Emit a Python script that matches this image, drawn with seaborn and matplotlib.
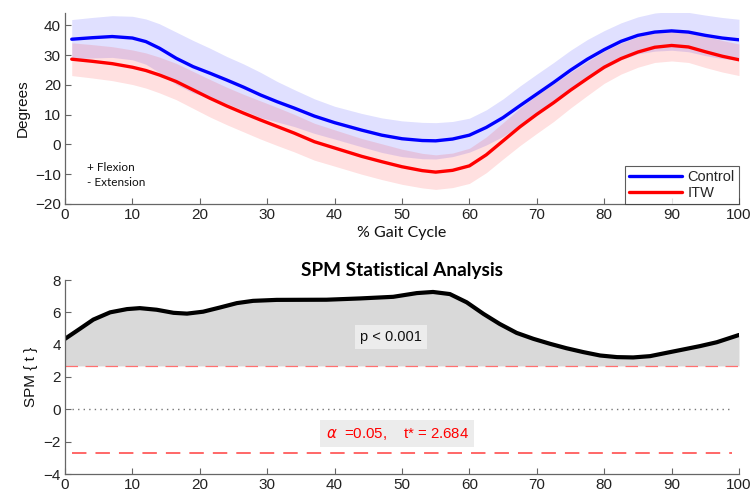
import numpy as np
import pandas as pd
import matplotlib
matplotlib.use("Agg")
import matplotlib.pyplot as plt
import seaborn as sns

# ---------------- data ----------------
gait_x = [1, 4, 7, 10, 12, 14, 16.5, 19, 21.5, 24, 26.5, 29, 31.5, 34, 37, 40, 44, 47, 50, 53, 55,
          57.5, 60, 62.5, 65, 67.5, 70, 72.5, 75, 77.5, 80, 82.5, 85, 87.5, 90, 92.5, 95, 97.5, 100]
control_mean = [35.3, 35.8, 36.2, 35.7, 34.5, 32.3, 28.9, 26.1, 23.9, 21.6, 19.2, 16.6, 14.3, 12.2, 9.5, 7.3,
                4.8, 3.1, 1.9, 1.3, 1.2, 1.8, 3.1, 5.7, 9.0, 13.0, 16.9, 20.8, 24.9, 28.6, 31.8, 34.6, 36.6,
                37.7, 38.1, 37.7, 36.6, 35.7, 35.1]
control_sd = [6.6, 6.8, 7.0, 7.3, 7.6, 8.2, 8.8, 8.8, 8.4, 7.9, 7.8, 7.6, 6.8, 6.2, 5.8, 5.5,
              5.6, 5.8, 6.0, 6.1, 6.1, 5.9, 5.7, 5.9, 6.3, 6.6, 6.7, 6.7, 6.7, 6.6, 6.4, 6.2, 6.2,
              6.4, 6.5, 6.6, 6.8, 6.9, 6.9]
itw_mean = [28.6, 27.9, 27.1, 25.9, 24.8, 23.3, 21.1, 18.3, 15.5, 12.9, 10.5, 8.2, 6.0, 3.8, 0.9, -1.2,
            -4.0, -5.8, -7.5, -8.8, -9.3, -8.7, -7.2, -3.5, 1.2, 5.9, 10.1, 14.0, 18.2, 22.1, 25.9, 28.8, 31.0,
            32.6, 33.2, 32.7, 31.1, 29.6, 28.4]
itw_sd = [5.5, 5.6, 5.7, 5.8, 5.9, 6.0, 6.1, 6.2, 6.3, 6.3, 6.3, 6.4, 6.4, 6.3, 6.2, 6.1,
          6.0, 6.0, 5.9, 5.8, 5.8, 5.8, 5.9, 6.0, 6.1, 6.3, 6.4, 6.3, 6.0, 5.7, 5.4, 5.2, 5.1,
          5.1, 5.2, 5.2, 5.3, 5.3, 5.3]

spm_x = [0, 2.2, 4.2, 6.7, 9.2, 11.1, 13.6, 16.1, 18.1, 20.5, 23, 25.5, 27.9, 31.4, 38.8, 43.8, 48.7,
         52.2, 54.6, 57.1, 59.6, 62.1, 64.5, 67, 69.5, 72, 74.4, 76.9, 79.4, 81.9, 84.3, 86.8, 89.3,
         91.7, 94.2, 96.7, 100]
spm_t = [4.36, 4.98, 5.55, 6.0, 6.2, 6.26, 6.16, 5.97, 5.92, 6.04, 6.3, 6.57, 6.71, 6.77, 6.78, 6.86, 6.96,
         7.19, 7.26, 7.13, 6.62, 5.9, 5.28, 4.73, 4.36, 4.05, 3.78, 3.54, 3.33, 3.23, 3.21, 3.29, 3.5,
         3.7, 3.91, 4.15, 4.6]
t_star = 2.684
alpha_level = 0.05

top_xticks = list(range(0, 101, 10))
top_yticks = list(range(-20, 41, 10))
bot_yticks = list(range(-4, 9, 2))

# ---------------- style ----------------
sns.set_theme(style="white")
plt.rcParams['font.family'] = ['Liberation Sans', 'DejaVu Sans']
plt.rcParams['axes.edgecolor'] = '#666666'
plt.rcParams['xtick.color'] = '#666666'
plt.rcParams['ytick.color'] = '#666666'
plt.rcParams['xtick.labelcolor'] = '#222222'
plt.rcParams['ytick.labelcolor'] = '#222222'

fig = plt.figure(figsize=(7.52, 4.93), dpi=100)
ax1 = fig.add_axes([65/752, 1 - 204/493, 674/752, (204 - 12.7)/493])
ax2 = fig.add_axes([65/752, 1 - 474/493, 674/752, (474 - 280)/493])

df = pd.DataFrame({
    "x": gait_x * 2,
    "y": control_mean + itw_mean,
    "group": ["Control"] * len(gait_x) + ["ITW"] * len(gait_x),
})

cm = np.array(control_mean); cs = np.array(control_sd)
im = np.array(itw_mean); isd = np.array(itw_sd)
ax1.fill_between(gait_x, cm - cs, cm + cs, color='#0000ff', alpha=0.12, lw=0)
ax1.fill_between(gait_x, im - isd, im + isd, color='#ff0000', alpha=0.12, lw=0)
sns.lineplot(data=df, x="x", y="y", hue="group", palette={"Control": "#0000ff", "ITW": "#ff0000"},
             lw=2.4, ax=ax1, legend=True)

ax1.set_xlim(0, 100)
ax1.set_ylim(-20, 44.2)
ax1.set_xticks(top_xticks)
ax1.set_yticks(top_yticks)
ax1.set_xlabel("% Gait Cycle", family=['Lato', 'DejaVu Sans'], fontsize=11.5, color='#111111', labelpad=3)
ax1.set_ylabel("Degrees", fontsize=11, color='#111111', labelpad=4)
ax1.text(3.3, -7.8, "+ Flexion", family=['Lato', 'DejaVu Sans'], fontsize=8.5, color='#111111', va='center')
ax1.text(3.3, -12.8, "- Extension", family=['Lato', 'DejaVu Sans'], fontsize=8.5, color='#111111', va='center')
leg = ax1.legend(loc='lower right', bbox_to_anchor=(1.0, 0.0), frameon=True, fancybox=False,
                 edgecolor='#333333', fontsize=10.5, handlelength=3.6, borderpad=0.3,
                 labelspacing=0.1, handletextpad=0.4, borderaxespad=0.0)
leg.get_frame().set_linewidth(0.8)
leg.set_title(None)

# ---------------- SPM ----------------
st = np.array(spm_t)
ax2.fill_between(spm_x, t_star, st, where=st >= t_star, color='#d9d9d9', lw=0)
sns.lineplot(x=spm_x, y=spm_t, color='black', lw=3, ax=ax2)
ax2.axhline(t_star, color='#ff7070', lw=0.9, dashes=(10, 6))
ax2.axhline(-t_star, color='#ff5c5c', lw=1.3, dashes=(8, 5), xmin=0.01, xmax=0.99)
ax2.axhline(0, color='#777777', lw=1.0, ls=(0, (1, 3)), xmin=0.01, xmax=0.99)

ax2.text(48.4, 4.45, "p < 0.001", fontsize=10.5, ha='center', va='center', color='#111111',
         bbox=dict(boxstyle='square,pad=0.35', fc='#ececec', ec='none'))
ax2.text(49.3, -1.5, r"$\alpha$  =0.05,    t* = 2.684", fontsize=10.8, ha='center', va='center', color='#ff0000',
         bbox=dict(boxstyle='square,pad=0.35', fc='#ececec', ec='none'))

ax2.set_xlim(0, 100)
ax2.set_ylim(-4, 8)
ax2.set_xticks(top_xticks)
ax2.set_yticks(bot_yticks)
ax2.set_xlabel("")
ax2.set_ylabel("SPM { t }", fontsize=11, color='#111111', labelpad=4)
ax2.set_title("SPM Statistical Analysis", family=['Lato', 'DejaVu Sans'], fontweight='bold', fontsize=13.7,
              color='black', pad=3)

for ax in (ax1, ax2):
    sns.despine(ax=ax)
    ax.tick_params(direction='in', length=4, width=0.8, labelsize=11, pad=3, bottom=True, left=True)
    for s in ax.spines.values():
        s.set_linewidth(0.9)

fig.savefig("out.png", dpi=100)
